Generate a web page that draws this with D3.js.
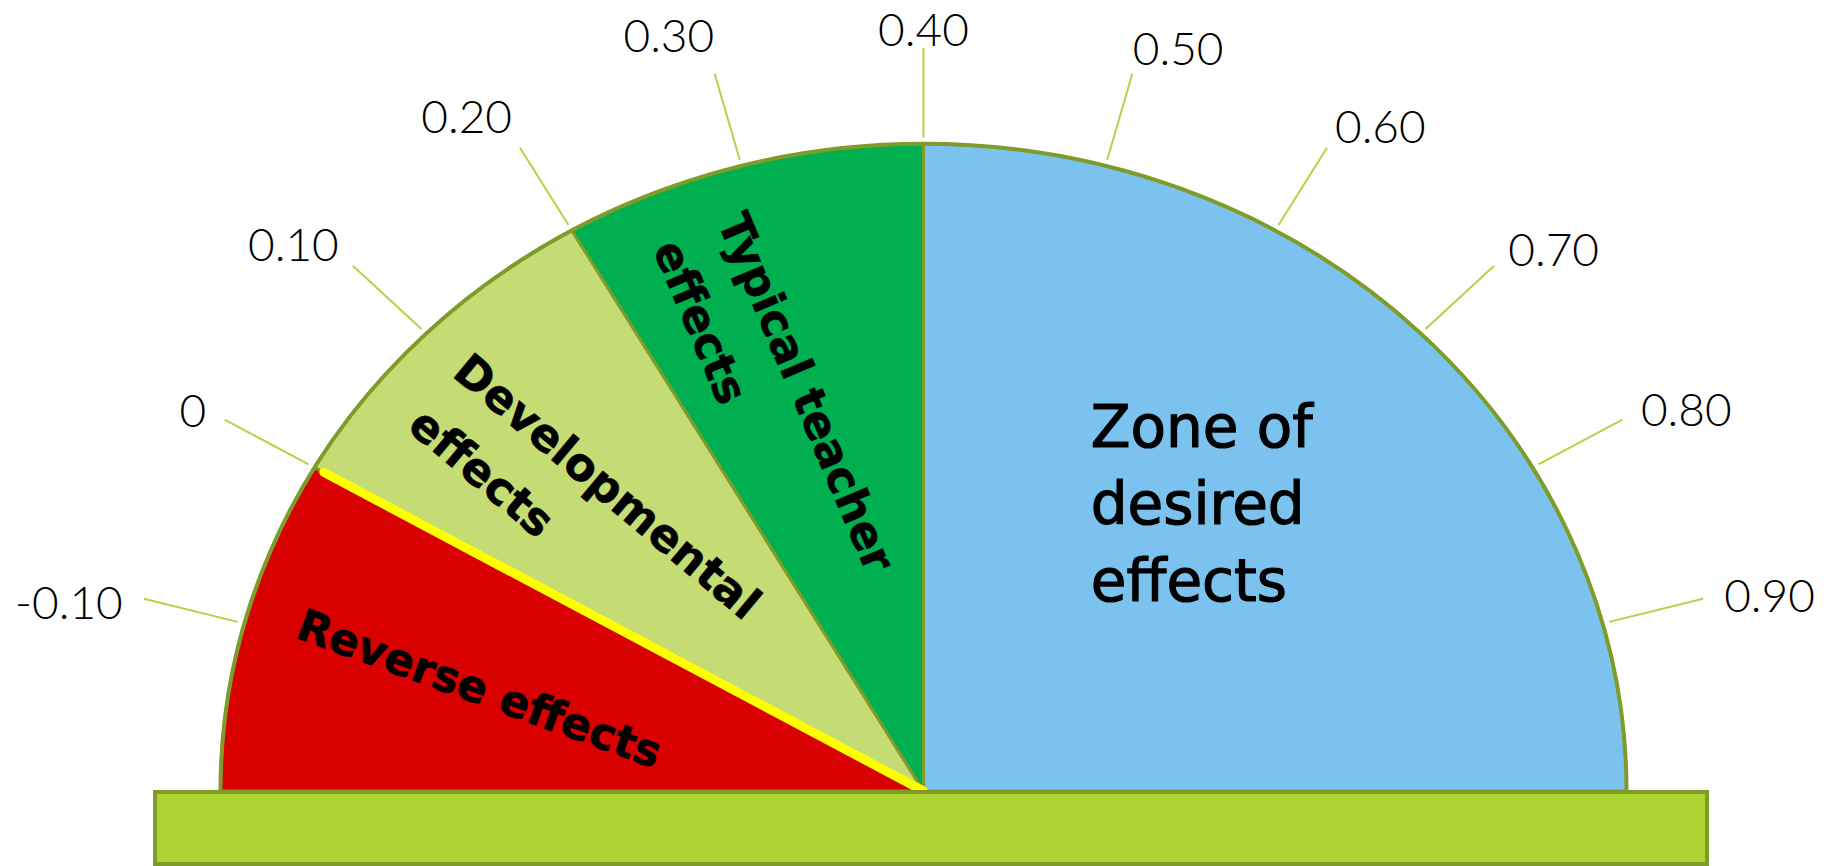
<!DOCTYPE html>
<html>
<head>
<meta charset="utf-8">
<script src="https://cdn.jsdelivr.net/npm/d3@7"></script>
<style>
  body { margin: 0; background: #fff; }
  svg { display: block; }
</style>
</head>
<body>
<svg id="chart" width="1826" height="866"></svg>
<script>
// zones of the barometer (effect size ranges)
const zoneNames = ['Reverse effects', 'Developmental effects', 'Typical teacher effects', 'Zone of desired effects'];
const zoneStarts = [-0.2, 0, 0.2, 0.4];
const zoneEnds = [0, 0.2, 0.4, 1.0];
const zoneLines = [['Reverse effects'], ['Developmental', 'effects'], ['Typical teacher', 'effects'], ['Zone of', 'desired', 'effects']];
const zoneColors = ['#d80000', '#c5dc75', '#00af50', '#7bc3ee'];

// scale ticks
const tickValues = [-0.1, 0, 0.1, 0.2, 0.3, 0.4, 0.5, 0.6, 0.7, 0.8, 0.9];
const tickLabels = ['-0.10', '0', '0.10', '0.20', '0.30', '0.40', '0.50', '0.60', '0.70', '0.80', '0.90'];

const cx = 923.5;
const cy = 791;
const rx = 703;
const ry = 647;
const olive = '#7f9c2a';
const tickFont = 46;

// where each zone label sits (value along the dial, radius fraction, rotation)
const labelLayout = [
  { v: -0.106, r: 0.651, rot: 20, weight: 'bold', size: 44, lh: 70, anchor: 'middle' },
  { v: 0.078, r: 0.645, rot: 40, weight: 'bold', size: 45, lh: 70, anchor: 'start' },
  { v: 0.269, r: 0.632, rot: 67, weight: 'bold', size: 45, lh: 70, anchor: 'start' },
  { v: 0.678, r: 0.595, rot: 0, weight: 'normal', size: 58, lh: 77, anchor: 'start' },
];

const svg = d3.select('#chart');

// arc angle: 0 at the top, clockwise (d3.arc convention)
const angle = d3.scaleLinear().domain([-0.2, 1.0]).range([-Math.PI / 2, Math.PI / 2]);

// point on the (slightly stretched) dial
const pt = (v, r) => {
  const a = angle(v);
  return [cx + rx * r * Math.sin(a), cy - ry * r * Math.cos(a)];
};

const zones = zoneNames.map((name, i) => ({
  name, start: zoneStarts[i], end: zoneEnds[i], lines: zoneLines[i], color: zoneColors[i],
}));

const arc = d3.arc()
  .innerRadius(0)
  .outerRadius(ry)
  .startAngle((d) => angle(d.start))
  .endAngle((d) => angle(d.end));

const dial = svg.append('g')
  .attr('transform', `translate(${cx},${cy}) scale(${rx / ry},1)`);

dial.selectAll('path.zone')
  .data(zones)
  .enter()
  .append('path')
  .attr('class', 'zone')
  .attr('d', arc)
  .attr('fill', (d) => d.color)
  .attr('stroke', olive)
  .attr('stroke-width', 3)
  .attr('stroke-linejoin', 'round')
  .attr('vector-effect', 'non-scaling-stroke');

// heavier outline along the rim
dial.append('path')
  .attr('d', d3.arc()({
    innerRadius: ry, outerRadius: ry, startAngle: angle(-0.2), endAngle: angle(1.0),
  }))
  .attr('fill', 'none')
  .attr('stroke', olive)
  .attr('stroke-width', 4)
  .attr('vector-effect', 'non-scaling-stroke');

// yellow boundary at zero
const [yx, yy] = pt(0, 0.985);
svg.append('line')
  .attr('x1', cx)
  .attr('y1', cy)
  .attr('x2', yx)
  .attr('y2', yy)
  .attr('stroke', '#ffff00')
  .attr('stroke-width', 9)
  .attr('stroke-linecap', 'round');

// tick marks and labels (labels hang off the end of each leader)
const tickIn = 1.01;
const tickOut = 1.148;
const ticks = tickValues.map((v, i) => {
  const [x1, y1] = pt(v, tickIn);
  const [x2, y2] = pt(v, tickOut);
  const len = Math.hypot(x2 - x1, y2 - y1);
  return {
    v, label: tickLabels[i], x1, y1, x2, y2, ux: (x2 - x1) / len, uy: (y2 - y1) / len,
  };
});

const tickG = svg.append('g');
tickG.selectAll('line')
  .data(ticks)
  .enter()
  .append('line')
  .attr('x1', (d) => d.x1)
  .attr('y1', (d) => d.y1)
  .attr('x2', (d) => d.x2)
  .attr('y2', (d) => d.y2)
  .attr('stroke', '#b3d346')
  .attr('stroke-width', 2);

const tickText = tickG.selectAll('text')
  .data(ticks)
  .enter()
  .append('text')
  .attr('text-anchor', 'middle')
  .attr('dominant-baseline', 'central')
  .attr('font-family', 'Lato, "Open Sans", sans-serif')
  .attr('font-weight', 300)
  .attr('font-size', tickFont)
  .attr('fill', '#000')
  .text((d) => d.label);

tickText.each(function place(d) {
  const half = this.getComputedTextLength() / 2;
  const side = Math.abs(d.ux) < 0.05 ? 0 : Math.sign(d.ux);
  const gap = Math.max(0, 30 * Math.abs(d.ux) - 8);
  // left-hand labels sit a little higher above their leaders than right-hand ones
  const dy = d.ux < -0.05 ? 58 * d.uy + 17 : 30 * d.uy + 3;
  d3.select(this)
    .attr('x', d.x2 + side * (half + gap))
    .attr('y', Math.max(tickFont * 0.62, d.y2 + dy));
});

// base plate
svg.append('rect')
  .attr('x', 155)
  .attr('y', cy + 1)
  .attr('width', 1552)
  .attr('height', 72)
  .attr('fill', '#add333')
  .attr('stroke', olive)
  .attr('stroke-width', 4);

// zone labels
zones.forEach((z, i) => {
  const lay = labelLayout[i];
  const [x, y] = pt(lay.v, lay.r);
  const g = svg.append('g')
    .attr('transform', `translate(${x},${y}) rotate(${lay.rot})`);
  const text = g.append('text')
    .attr('font-family', '"DejaVu Sans", sans-serif')
    .attr('font-weight', lay.weight)
    .attr('font-size', lay.size)
    .attr('fill', '#000')
    .attr('stroke', '#000')
    .attr('stroke-width', lay.weight === 'bold' ? 0.6 : 1.2);
  const spans = text.selectAll('tspan')
    .data(z.lines)
    .enter()
    .append('tspan')
    .attr('y', (d, j) => (j - (z.lines.length - 1) / 2) * lay.lh)
    .attr('dominant-baseline', 'central')
    .text((d) => d);
  const widest = d3.max(spans.nodes(), (n) => n.getComputedTextLength());
  if (lay.anchor === 'middle') {
    spans.attr('x', 0).attr('text-anchor', 'middle');
  } else {
    spans.attr('x', -widest / 2).attr('text-anchor', 'start');
  }
});
</script>
</body>
</html>
